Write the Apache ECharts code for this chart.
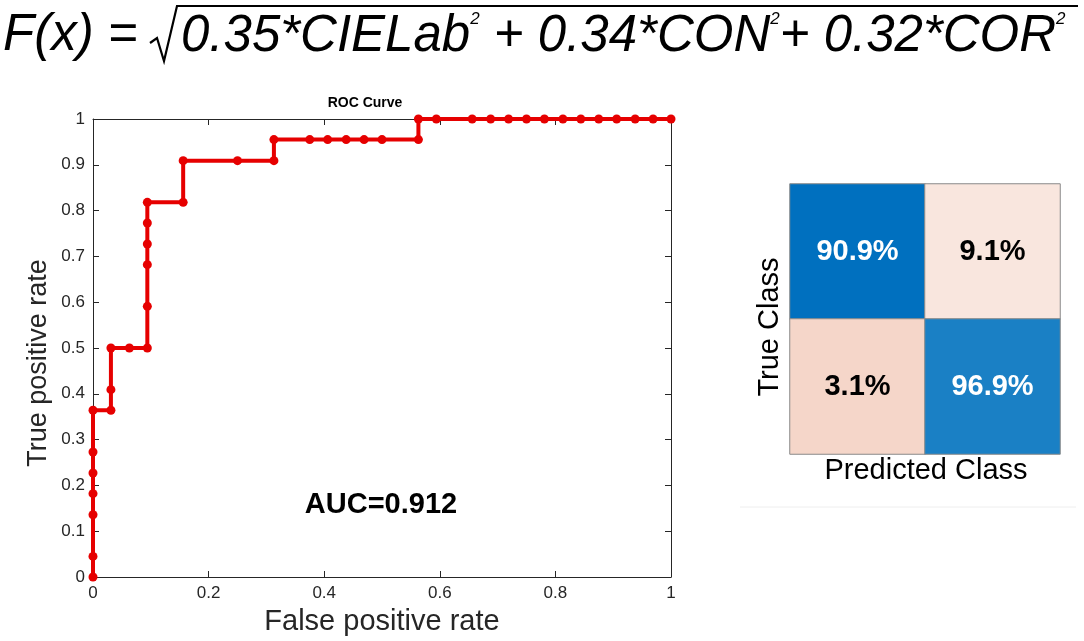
<!DOCTYPE html>
<html>
<head>
<meta charset="utf-8">
<script src="https://cdn.jsdelivr.net/npm/echarts@6/dist/echarts.min.js"></script>
<style>
  html, body { margin: 0; padding: 0; background: #fff; }
  #chart { width: 1084px; height: 641px; }
</style>
</head>
<body>
<div id="chart"></div>
<script>
// ROC points (false positive rate, true positive rate)
var fpr = [0, 0, 0, 0, 0, 0, 0, 0.031, 0.031, 0.031, 0.063, 0.094, 0.094, 0.094,
  0.094, 0.094, 0.094, 0.156, 0.156, 0.25, 0.313, 0.313, 0.375, 0.406, 0.438,
  0.469, 0.5, 0.563, 0.563, 0.594, 0.656, 0.688, 0.719, 0.75, 0.781, 0.813,
  0.844, 0.875, 0.906, 0.938, 0.969, 1];
var tpr = [0, 0.045, 0.136, 0.182, 0.227, 0.273, 0.364, 0.364, 0.409, 0.5, 0.5,
  0.5, 0.591, 0.682, 0.727, 0.773, 0.818, 0.818, 0.909, 0.909, 0.909, 0.955,
  0.955, 0.955, 0.955, 0.955, 0.955, 0.955, 1, 1, 1, 1, 1, 1, 1, 1, 1, 1, 1, 1, 1, 1];

// confusion matrix (row = true class, col = predicted class), percent
var cmCols = ['1', '2'];
var cmRows = ['1', '2'];
var cmValues = [[90.9, 9.1], [3.1, 96.9]];
var cmColors = [['#0070bf', '#f9e6de'], ['#f5d6c9', '#1a80c5']];
var cmText = [['#ffffff', '#000000'], ['#000000', '#ffffff']];

var xTicks = { min: 0, max: 1, interval: 0.2 };
var yTicks = { min: 0, max: 1, interval: 0.1 };

var rocData = fpr.map(function (x, i) { return [x, tpr[i]]; });

var cmData = [];
cmValues.forEach(function (row, r) {
  row.forEach(function (v, c) {
    cmData.push({
      value: [c, r, v],
      itemStyle: { color: cmColors[r][c] },
      label: { color: cmText[r][c] }
    });
  });
});

var font = 'Liberation Sans, Arial, sans-serif';
var axisLine = { show: true, onZero: false, lineStyle: { color: '#262626', width: 1 } };
var tickIn = { show: true, inside: true, length: 6, lineStyle: { color: '#262626' } };

var chart = echarts.init(document.getElementById('chart'));
var option = {
  animation: false,
  grid: [
    { left: 93, top: 119, width: 578, height: 458 },
    { left: 790, top: 184, width: 270, height: 270 }
  ],
  xAxis: [
    {
      gridIndex: 0, type: 'value', min: xTicks.min, max: xTicks.max, interval: xTicks.interval,
      position: 'bottom', axisLine: axisLine, axisTick: tickIn, splitLine: { show: false },
      axisLabel: { color: '#262626', fontFamily: font, fontSize: 17, margin: 8 },
      name: 'False positive rate', nameLocation: 'middle', nameGap: 30,
      nameTextStyle: { color: '#262626', fontFamily: font, fontSize: 29 }
    },
    {
      gridIndex: 0, type: 'value', min: xTicks.min, max: xTicks.max, interval: xTicks.interval,
      position: 'top', axisLine: axisLine, axisTick: tickIn, splitLine: { show: false },
      axisLabel: { show: false }
    },
    {
      gridIndex: 1, type: 'category', data: cmCols, show: false
    }
  ],
  yAxis: [
    {
      gridIndex: 0, type: 'value', min: yTicks.min, max: yTicks.max, interval: yTicks.interval,
      position: 'left', axisLine: axisLine, axisTick: tickIn, splitLine: { show: false },
      axisLabel: { color: '#262626', fontFamily: font, fontSize: 17, margin: 8 }
    },
    {
      gridIndex: 0, type: 'value', min: yTicks.min, max: yTicks.max, interval: yTicks.interval,
      position: 'right', axisLine: axisLine, axisTick: tickIn, splitLine: { show: false },
      axisLabel: { show: false }
    },
    {
      gridIndex: 1, type: 'category', data: cmRows, inverse: true, show: false
    }
  ],
  series: [
    {
      type: 'line', xAxisIndex: 0, yAxisIndex: 0, data: rocData,
      symbol: 'circle', symbolSize: 9, clip: false,
      lineStyle: { color: '#e60000', width: 4 },
      itemStyle: { color: '#e60000' }
    },
    {
      type: 'heatmap', xAxisIndex: 2, yAxisIndex: 2, data: cmData,
      itemStyle: { borderColor: '#8a8a8a', borderWidth: 1 },
      label: {
        show: true, fontFamily: font, fontSize: 29, fontWeight: 'bold',
        formatter: function (p) { return p.value[2].toFixed(1) + '%'; }
      }
    }
  ],
  graphic: [
    // formula
    {
      type: 'text', left: 3, top: 10,
      style: {
        text: 'F(x) =', font: 'italic 51px ' + font, fill: '#000'
      }
    },
    {
      type: 'polyline',
      shape: { points: [[150, 43], [157, 38], [164, 61], [177, 6], [1078, 6]] },
      style: { stroke: '#000', lineWidth: 2.2, fill: null }
    },
    {
      type: 'text', left: 181, top: 11,
      style: {
        text: '0.35*CIELab{s|2} + 0.34*CON{s|2}+ 0.32*COR{s|2}',
        font: 'italic 51px ' + font, fill: '#000',
        rich: {
          s: { font: 'italic 17px ' + font, verticalAlign: 'top', padding: [0, 0, 30, 0] }
        }
      }
    },
    // y axis title of the ROC plot
    {
      type: 'text', x: 39, y: 363, rotation: Math.PI / 2,
      style: {
        text: 'True positive rate', font: '27px ' + font, fill: '#262626',
        align: 'center', verticalAlign: 'middle'
      }
    },
    // ROC titles
    {
      type: 'text', x: 365, y: 103,
      style: {
        text: 'ROC Curve', font: 'bold 14px ' + font, fill: '#000',
        align: 'center', verticalAlign: 'middle'
      }
    },
    {
      type: 'text', x: 381, y: 505,
      style: {
        text: 'AUC=0.912', font: 'bold 29px ' + font, fill: '#000',
        align: 'center', verticalAlign: 'middle'
      }
    },
    // confusion matrix labels
    {
      type: 'text', x: 770, y: 327, rotation: Math.PI / 2,
      style: {
        text: 'True Class', font: '29px ' + font, fill: '#000',
        align: 'center', verticalAlign: 'middle'
      }
    },
    {
      type: 'text', x: 926, y: 471,
      style: {
        text: 'Predicted Class', font: '29px ' + font, fill: '#000',
        align: 'center', verticalAlign: 'middle'
      }
    },
    {
      type: 'line', shape: { x1: 740, y1: 507, x2: 1076, y2: 507 },
      style: { stroke: '#eeeeee', lineWidth: 1 }
    }
  ]
};
chart.setOption(option);
</script>
</body>
</html>
